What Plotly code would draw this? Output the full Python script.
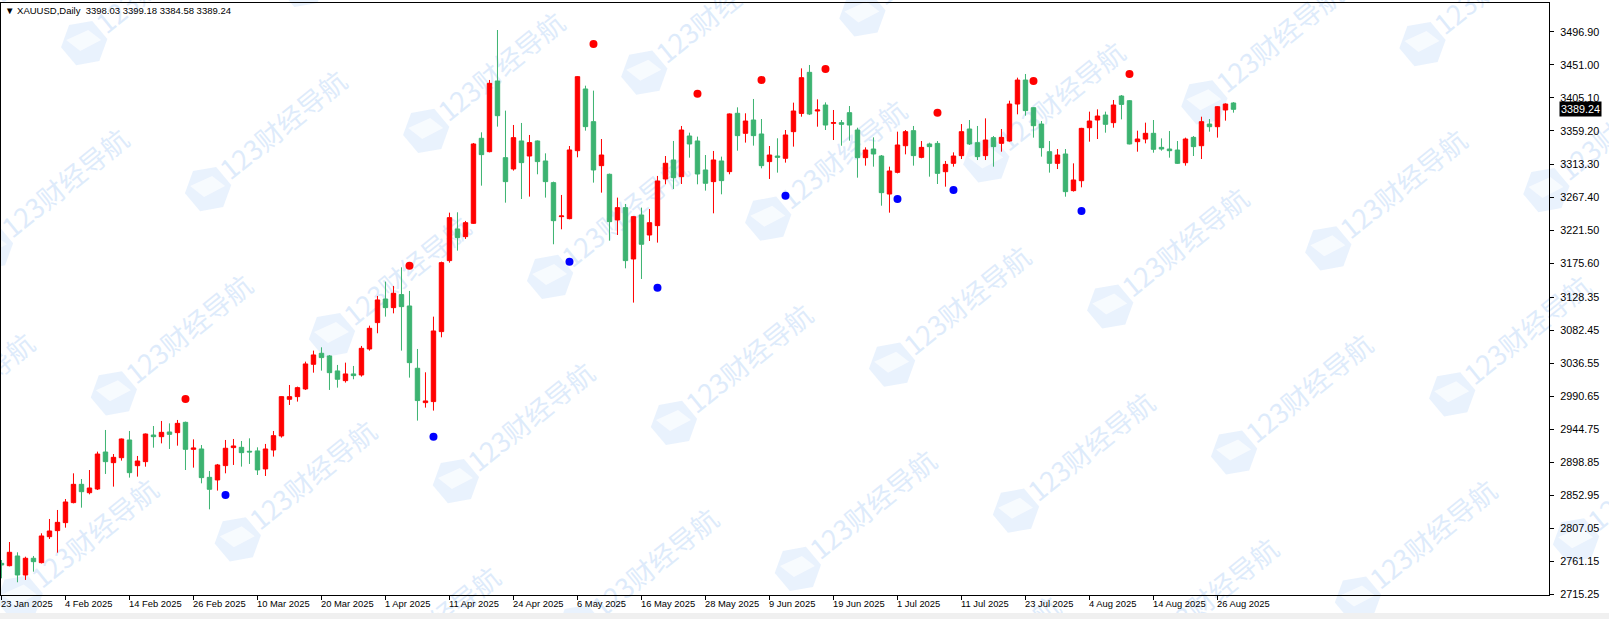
import math
import pandas as pd
import plotly.graph_objects as go

# ---- data -------------------------------------------------------------
dates = [d.strftime("%Y-%m-%d") for d in pd.bdate_range("2025-01-23", "2025-08-28")
         if d.strftime("%Y-%m-%d") != "2025-04-18"]

opens = [2758.7, 2755.4, 2768.9, 2742.5, 2765.7, 2759.6, 2795.7, 2804.1, 2815.2, 2843.0,
         2868.4, 2856.8, 2861.9, 2913.3, 2898.5, 2905.4, 2930.0, 2894.3, 2899.9, 2936.9,
         2934.6, 2941.1, 2940.2, 2954.5, 2917.0, 2917.5, 2878.1, 2874.5, 2894.4, 2919.4,
         2919.8, 2914.3, 2914.8, 2889.8, 2916.1, 2935.6, 2986.5, 2990.2, 3000.9, 3035.1,
         3050.4, 3046.7, 3025.9, 3012.4, 3021.7, 3020.3, 3056.4, 3093.0, 3125.8, 3113.8,
         3131.9, 3116.1, 3029.6, 2981.9, 2983.3, 3080.5, 3179.1, 3223.1, 3212.4, 3230.9,
         3349.0, 3330.4, 3428.6, 3322.1, 3306.4, 3345.3, 3324.4, 3345.3, 3317.5, 3287.4,
         3240.2, 3237.4, 3331.8, 3417.5, 3372.1, 3311.0, 3299.0, 3235.6, 3252.7, 3181.4,
         3242.5, 3214.7, 3227.7, 3292.5, 3318.9, 3295.7, 3352.2, 3345.3, 3305.0, 3288.8,
         3317.5, 3302.7, 3383.7, 3355.9, 3374.4, 3355.0, 3316.6, 3324.4, 3321.2, 3358.2,
         3383.6, 3440.6, 3386.9, 3395.2, 3369.8, 3370.7, 3384.6, 3360.5, 3322.1, 3334.1,
         3324.4, 3271.6, 3301.7, 3338.7, 3359.6, 3322.5, 3341.1, 3341.9, 3302.6, 3314.2,
         3324.9, 3361.9, 3342.9, 3324.9, 3349.9, 3342.0, 3345.2, 3396.6, 3429.9, 3391.5,
         3368.8, 3330.4, 3314.2, 3327.2, 3276.3, 3290.1, 3363.7, 3374.4, 3381.3, 3370.7,
         3407.7, 3401.2, 3344.3, 3347.9, 3355.9, 3336.4, 3334.1, 3332.7, 3315.1, 3350.3,
         3338.7, 3368.8, 3365.1, 3388.3, 3398.03]
highs = [2763.3, 2788.3, 2774.0, 2767.9, 2768.9, 2800.4, 2820.3, 2832.8, 2848.0, 2883.7,
         2875.8, 2888.3, 2913.8, 2943.9, 2910.5, 2932.0, 2942.5, 2907.8, 2939.0, 2949.4,
         2956.4, 2953.1, 2957.8, 2955.5, 2930.9, 2923.0, 2886.9, 2896.7, 2930.0, 2931.4,
         2928.6, 2932.3, 2919.8, 2924.5, 2942.5, 2990.5, 3006.4, 3004.1, 3038.8, 3054.1,
         3058.7, 3048.0, 3034.2, 3037.4, 3032.8, 3060.6, 3088.8, 3130.0, 3149.9, 3143.9,
         3169.8, 3137.0, 3056.4, 3024.0, 3101.3, 3177.7, 3245.7, 3246.2, 3234.2, 3342.5,
         3357.3, 3430.0, 3499.4, 3387.4, 3367.5, 3370.3, 3353.6, 3346.0, 3328.1, 3288.8,
         3270.3, 3338.3, 3435.5, 3422.1, 3415.2, 3348.0, 3300.0, 3266.6, 3257.8, 3241.0,
         3252.7, 3250.8, 3296.7, 3324.4, 3345.3, 3366.1, 3356.8, 3351.3, 3325.8, 3331.4,
         3323.5, 3383.5, 3392.0, 3383.7, 3403.6, 3375.8, 3338.3, 3349.0, 3360.5, 3398.5,
         3446.1, 3450.8, 3403.1, 3398.9, 3388.3, 3374.4, 3393.8, 3363.7, 3336.4, 3350.3,
         3325.8, 3309.6, 3358.2, 3360.5, 3366.1, 3345.2, 3342.9, 3345.2, 3317.5, 3329.5,
         3368.8, 3374.4, 3366.1, 3376.7, 3352.2, 3361.9, 3401.2, 3433.2, 3438.3, 3392.0,
         3373.0, 3345.2, 3334.1, 3334.1, 3314.2, 3363.5, 3386.0, 3389.2, 3386.0, 3402.2,
         3409.1, 3402.0, 3359.6, 3370.7, 3374.4, 3348.9, 3359.1, 3345.2, 3349.9, 3352.2,
         3379.0, 3375.8, 3393.8, 3397.5, 3399.18]
lows = [2737.9, 2754.5, 2732.4, 2735.6, 2747.1, 2758.5, 2792.5, 2773.5, 2808.2, 2842.0,
        2836.0, 2854.5, 2860.5, 2882.8, 2865.2, 2901.3, 2877.7, 2879.1, 2892.9, 2919.3,
        2925.3, 2917.5, 2922.1, 2888.3, 2891.6, 2869.8, 2833.7, 2859.7, 2883.7, 2895.3,
        2893.0, 2896.7, 2881.4, 2880.0, 2906.9, 2933.3, 2978.6, 2983.3, 2999.5, 3023.5,
        3026.3, 2999.5, 3002.7, 3009.7, 3014.3, 3018.0, 3054.1, 3078.2, 3101.3, 3105.9,
        3054.1, 3016.6, 2956.9, 2974.9, 2970.8, 3072.6, 3176.3, 3193.0, 3209.2, 3230.0,
        3283.2, 3329.5, 3365.2, 3259.6, 3304.1, 3264.7, 3268.0, 3299.0, 3266.6, 3201.8,
        3222.6, 3236.5, 3322.6, 3359.6, 3287.4, 3273.5, 3206.9, 3214.7, 3168.4, 3120.8,
        3153.6, 3206.4, 3204.1, 3285.1, 3278.6, 3285.5, 3322.1, 3285.1, 3276.3, 3244.8,
        3271.2, 3299.0, 3331.8, 3343.0, 3338.8, 3307.3, 3292.5, 3301.3, 3315.2, 3337.4,
        3379.0, 3381.3, 3365.1, 3360.5, 3346.6, 3338.7, 3345.7, 3294.3, 3311.0, 3309.6,
        3255.4, 3245.7, 3300.3, 3326.7, 3311.0, 3321.2, 3295.7, 3285.5, 3281.8, 3309.6,
        3320.2, 3339.7, 3318.8, 3318.8, 3309.6, 3330.4, 3344.3, 3382.3, 3380.4, 3349.9,
        3323.5, 3301.3, 3306.3, 3267.9, 3275.0, 3280.9, 3344.3, 3348.0, 3356.8, 3363.7,
        3375.3, 3340.6, 3330.4, 3342.0, 3329.0, 3331.8, 3322.1, 3313.3, 3311.0, 3324.4,
        3320.2, 3358.2, 3349.9, 3373.5, 3384.58]
closes = [2756.4, 2774.0, 2742.5, 2765.7, 2761.0, 2796.7, 2803.6, 2815.6, 2843.9, 2868.4,
          2858.2, 2863.3, 2910.5, 2899.9, 2905.9, 2931.4, 2884.6, 2900.8, 2938.3, 2934.6,
          2940.6, 2937.8, 2953.1, 2917.0, 2918.9, 2877.7, 2861.5, 2895.3, 2918.5, 2921.7,
          2912.4, 2913.4, 2888.4, 2917.5, 2936.0, 2990.2, 2990.2, 3002.7, 3035.6, 3048.1,
          3044.4, 3023.5, 3014.3, 3021.7, 3019.4, 3057.3, 3085.1, 3124.5, 3113.8, 3133.7,
          3115.2, 3037.4, 2984.7, 2984.2, 3081.4, 3176.3, 3238.8, 3211.0, 3231.8, 3341.1,
          3326.3, 3425.3, 3380.4, 3288.8, 3349.9, 3315.2, 3343.0, 3316.6, 3288.8, 3234.6,
          3241.1, 3332.8, 3434.6, 3365.2, 3305.0, 3325.8, 3233.2, 3252.7, 3179.1, 3240.2,
          3201.8, 3231.8, 3289.7, 3314.3, 3294.3, 3360.5, 3341.1, 3299.4, 3286.5, 3318.9,
          3290.2, 3382.8, 3352.7, 3373.0, 3352.7, 3311.0, 3325.8, 3322.6, 3353.6, 3386.9,
          3433.2, 3382.7, 3388.3, 3367.4, 3370.7, 3368.4, 3367.4, 3322.1, 3332.7, 3327.2,
          3273.5, 3303.6, 3339.7, 3358.2, 3324.9, 3336.4, 3337.4, 3300.3, 3312.8, 3324.4,
          3358.2, 3341.1, 3323.5, 3346.6, 3337.4, 3350.3, 3396.6, 3429.9, 3387.4, 3366.5,
          3336.0, 3314.2, 3325.8, 3274.9, 3291.1, 3362.8, 3373.0, 3379.9, 3368.4, 3395.2,
          3396.1, 3341.1, 3348.0, 3355.9, 3333.7, 3334.1, 3331.8, 3314.2, 3348.0, 3337.4,
          3372.1, 3365.1, 3392.9, 3396.6, 3389.24]

# fractal-style markers
red_dot_dates = ["2025-02-25", "2025-04-04", "2025-05-08", "2025-05-27", "2025-06-06",
                 "2025-06-18", "2025-07-08", "2025-07-24", "2025-08-11"]
red_dot_prices = [2986.9, 3172.1, 3480.0, 3410.9, 3430.0, 3445.2, 3384.6, 3428.6, 3438.3]
blue_dot_dates = ["2025-03-04", "2025-04-09", "2025-05-05", "2025-05-20", "2025-06-11",
                  "2025-07-01", "2025-07-10", "2025-08-01"]
blue_dot_prices = [2853.6, 2934.6, 3177.6, 3141.5, 3269.3, 3264.7, 3277.2, 3248.0]

tick_dates = ["2025-01-23", "2025-02-04", "2025-02-14", "2025-02-26", "2025-03-10",
              "2025-03-20", "2025-04-01", "2025-04-11", "2025-04-24", "2025-05-06",
              "2025-05-16", "2025-05-28", "2025-06-09", "2025-06-19", "2025-07-01",
              "2025-07-11", "2025-07-23", "2025-08-04", "2025-08-14", "2025-08-26"]
tick_labels = ["23 Jan 2025", "4 Feb 2025", "14 Feb 2025", "26 Feb 2025", "10 Mar 2025",
               "20 Mar 2025", "1 Apr 2025", "11 Apr 2025", "24 Apr 2025", "6 May 2025",
               "16 May 2025", "28 May 2025", "9 Jun 2025", "19 Jun 2025", "1 Jul 2025",
               "11 Jul 2025", "23 Jul 2025", "4 Aug 2025", "14 Aug 2025", "26 Aug 2025"]
price_ticks = [3496.90, 3451.00, 3405.10, 3359.20, 3313.30, 3267.40, 3221.50, 3175.60,
               3128.35, 3082.45, 3036.55, 2990.65, 2944.75, 2898.85, 2852.95, 2807.05,
               2761.15, 2715.25]
title_text = "XAUUSD,Daily  3398.03 3399.18 3384.58 3389.24"
last_price = 3389.24
watermark_text = "123财经导航"

# ---- layout geometry (pixels) -----------------------------------------
W, H = 1609, 619
M_L, M_R, M_T, M_B = 1, 60, 3, 24
PLOT_W = W - M_L - M_R
PLOT_H = H - M_T - M_B


def px2paper(px, py):
    return (px - M_L) / PLOT_W, (M_T + PLOT_H - py) / PLOT_H


FONT = "Liberation Sans"
RED = "#FF0000"
GREEN = "#3CB371"

fig = go.Figure()
fig.add_trace(go.Candlestick(
    x=dates, open=opens, high=highs, low=lows, close=closes,
    increasing=dict(line=dict(color=RED, width=1), fillcolor=RED),
    decreasing=dict(line=dict(color=GREEN, width=1), fillcolor=GREEN),
    whiskerwidth=0, showlegend=False, hoverinfo="skip"))
fig.add_trace(go.Scatter(x=red_dot_dates, y=red_dot_prices, mode="markers",
                         marker=dict(color=RED, size=8, line=dict(width=0)),
                         showlegend=False, hoverinfo="skip"))
fig.add_trace(go.Scatter(x=blue_dot_dates, y=blue_dot_prices, mode="markers",
                         marker=dict(color="#0000FF", size=8, line=dict(width=0)),
                         showlegend=False, hoverinfo="skip"))

annotations = []
for d, lab in zip(tick_dates, tick_labels):
    annotations.append(dict(x=d, xref="x", y=0, yref="paper", text=lab, showarrow=False,
                            xanchor="left", yanchor="top", yshift=-1, xshift=-2,
                            font=dict(family=FONT, size=9.4, color="black")))
annotations.append(dict(x=0, xref="paper", y=1, yref="paper", text="\u25BC " + title_text,
                        showarrow=False, xanchor="left", yanchor="top", xshift=2, yshift=0,
                        font=dict(family=FONT, size=9.5, color="black")))
annotations.append(dict(x=1, xref="paper", y=last_price, yref="y", text=f"{last_price:.2f}",
                        showarrow=False, xanchor="left", yanchor="middle", xshift=10,
                        bgcolor="black", borderpad=1,
                        font=dict(family=FONT, size=10.8, color="white")))

# ---- watermark tiles (decoration, behind the candles) -----------------
shapes = []
WM_ANCHOR = (1016.0, 510.7)
WM_V1 = (-218.1, 58.2)
WM_V2 = (123.9, 146.0)
for i in range(-12, 13):
    for j in range(-12, 13):
        cx = WM_ANCHOR[0] + i * WM_V1[0] + j * WM_V2[0]
        cy = WM_ANCHOR[1] + i * WM_V1[1] + j * WM_V2[1]
        if not (-170 < cx < W + 40 and -40 < cy < H + 130):
            continue
        hexpts = [px2paper(cx + 23.5 * math.cos(math.radians(170 + 60 * k)),
                           cy + 23.5 * math.sin(math.radians(170 + 60 * k))) for k in range(6)]
        path = "M " + " L ".join(f"{a:.5f},{b:.5f}" for a, b in hexpts) + " Z"
        shapes.append(dict(type="path", xref="paper", yref="paper", path=path,
                           fillcolor="rgba(200,222,250,0.4)", line=dict(width=0), layer="below"))
        inner = [px2paper(cx + dx, cy + dy) for dx, dy in [(-18, -3), (4, -13), (17, -3), (-4, 8)]]
        path2 = "M " + " L ".join(f"{a:.5f},{b:.5f}" for a, b in inner) + " Z"
        shapes.append(dict(type="path", xref="paper", yref="paper", path=path2,
                           fillcolor="rgba(255,255,255,0.65)", line=dict(width=0), layer="below"))
        sx, sy = px2paper(cx + 17, cy - 13.5)
        ex, ey = px2paper(cx + 137, cy - 110.5)
        shapes.append(dict(type="line", xref="paper", yref="paper", x0=sx, y0=sy, x1=ex, y1=ey,
                           line=dict(color="rgba(0,0,0,0)", width=0), layer="below",
                           label=dict(text=watermark_text, textangle=-39, textposition="middle",
                                      yanchor="middle", padding=0,
                                      font=dict(family="Noto Sans CJK SC", size=27,
                                                color="rgba(190,215,248,0.5)"))))

# bottom grey strip
gx0, gy0 = px2paper(-5, 613)
gx1, gy1 = px2paper(W + 5, H + 2)
shapes.append(dict(type="rect", xref="paper", yref="paper", x0=gx0, x1=gx1, y0=gy1, y1=gy0,
                   fillcolor="#F0F0F0", line=dict(width=0), layer="above"))

fig.update_layout(
    width=W, height=H,
    margin=dict(l=M_L, r=M_R, t=M_T, b=M_B, pad=0),
    paper_bgcolor="white", plot_bgcolor="white",
    boxgap=0.45, boxgroupgap=0,
    showlegend=False,
    annotations=annotations,
    shapes=shapes,
    xaxis=dict(type="category", range=[-0.06, 193.44], rangeslider=dict(visible=False),
               showgrid=False, zeroline=False, showline=True, linecolor="black", linewidth=1,
               mirror=True, ticks="outside", ticklen=4, tickcolor="black",
               tickvals=tick_dates, showticklabels=False),
    yaxis=dict(side="right", range=[2714.7, 3536.9], showgrid=False, zeroline=False,
               showline=True, linecolor="black", linewidth=1, mirror=True,
               ticks="outside", ticklen=4, tickcolor="black", ticklabelstandoff=4,
               tickvals=price_ticks, ticktext=[f"{v:.2f}" for v in price_ticks],
               tickfont=dict(family=FONT, size=10.8, color="black")),
)

fig.write_html("out.html", config={"displayModeBar": False},
               post_script="document.body.style.margin='0px';document.body.style.overflow='hidden';")
